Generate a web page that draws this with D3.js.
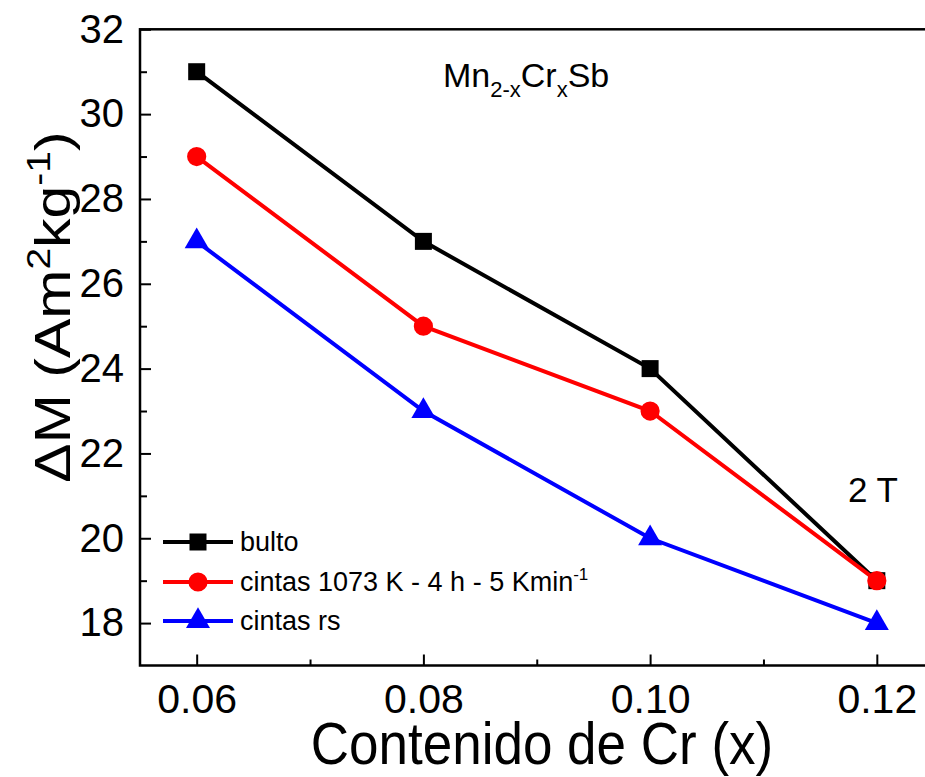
<!DOCTYPE html>
<html>
<head>
<meta charset="utf-8">
<script src="https://cdn.jsdelivr.net/npm/d3@7"></script>
<style>
  html, body { margin: 0; padding: 0; background: #fff; }
  svg { display: block; font-family: Arial, "Liberation Sans", Helvetica, sans-serif; }
</style>
</head>
<body>
<svg id="chart" width="925" height="777"></svg>
<script>
// Cr content of the Mn(2-x)Cr(x)Sb samples
const crContent = [0.06, 0.08, 0.10, 0.12];
// Magnetization change (Am^2 kg^-1) at 2 T
const bulto = [31, 27, 24, 19];
const cintas1073 = [29, 25, 23, 19];
const cintasRs = [27, 23, 20, 18];

const xMajorTicks = [0.06, 0.08, 0.10, 0.12];
const xMinorTicks = [0.07, 0.09, 0.11];
const yMajorTicks = [18, 20, 22, 24, 26, 28, 30, 32];
const yMinorTicks = [19, 21, 23, 25, 27, 29, 31];

const seriesNames = ["bulto", "cintas 1073 K - 4 h - 5 Kmin", "cintas rs"];

(function draw() {
  const svg = d3.select("#chart");
  const plotLeft = 140, plotRight = 933.5, plotTop = 29.3, plotBottom = 665.5;

  const x = d3.scaleLinear().domain([0.055, 0.125]).range([plotLeft, plotRight]);
  const y = d3.scaleLinear().domain([17, 32]).range([plotBottom, plotTop]);

  // axes with inward ticks
  const gx = svg.append("g").attr("transform", `translate(0,${plotBottom})`)
    .call(d3.axisBottom(x).tickValues(xMajorTicks).tickSize(-11).tickSizeOuter(0)
      .tickPadding(18).tickFormat(d3.format(".2f")));
  svg.append("g").attr("transform", `translate(0,${plotBottom})`)
    .call(d3.axisBottom(x).tickValues(xMinorTicks).tickSize(-6).tickSizeOuter(0).tickFormat(""));
  const gy = svg.append("g").attr("transform", `translate(${plotLeft},0)`)
    .call(d3.axisLeft(y).tickValues(yMajorTicks).tickSize(-11).tickSizeOuter(0).tickPadding(16));
  svg.append("g").attr("transform", `translate(${plotLeft},0)`)
    .call(d3.axisLeft(y).tickValues(yMinorTicks).tickSize(-7).tickSizeOuter(0).tickFormat(""));

  svg.selectAll(".domain").remove();
  svg.selectAll(".tick line").attr("stroke", "#000").attr("stroke-width", 2);
  gx.selectAll("text").attr("font-size", 41).attr("fill", "#000");
  gy.selectAll("text").attr("font-size", 40).attr("fill", "#000");

  // frame
  svg.append("rect").attr("x", plotLeft).attr("y", plotTop)
    .attr("width", plotRight - plotLeft).attr("height", plotBottom - plotTop)
    .attr("fill", "none").attr("stroke", "#000").attr("stroke-width", 2.5);

  const series = [
    { name: seriesNames[0], values: bulto, color: "#000000", shape: d3.symbolSquare, size: 289 },
    { name: seriesNames[1], values: cintas1073, color: "#ff0000", shape: d3.symbolCircle, size: 290 },
    { name: seriesNames[2], values: cintasRs, color: "#0000ff", shape: d3.symbolTriangle, size: 250 }
  ];

  const line = d3.line().x((d, i) => x(crContent[i])).y(d => y(d));

  series.forEach(s => {
    svg.append("path").datum(s.values)
      .attr("d", line).attr("fill", "none")
      .attr("stroke", s.color).attr("stroke-width", 4).attr("stroke-linejoin", "miter");
    svg.selectAll(null).data(s.values).enter().append("path")
      .attr("d", d3.symbol().type(s.shape).size(s.size))
      .attr("transform", (d, i) => `translate(${x(crContent[i])},${y(d)})`)
      .attr("fill", s.color);
  });

  // legend
  const legendRows = [542, 582, 621];
  series.forEach((s, i) => {
    const ly = legendRows[i];
    svg.append("line").attr("x1", 163).attr("x2", 233).attr("y1", ly).attr("y2", ly)
      .attr("stroke", s.color).attr("stroke-width", 4);
    svg.append("path").attr("d", d3.symbol().type(s.shape).size(s.size))
      .attr("transform", `translate(198,${ly})`).attr("fill", s.color);
    const t = svg.append("text").attr("x", 240).attr("y", ly).attr("dy", "0.35em")
      .attr("font-size", 27).attr("fill", "#000").text(s.name);
    if (i === 1) {
      t.append("tspan").attr("font-size", 17).attr("dy", -11).text("-1");
    }
  });

  // compound label
  const comp = svg.append("text").attr("x", 443).attr("y", 87).attr("font-size", 34).attr("fill", "#000");
  comp.append("tspan").text("Mn");
  comp.append("tspan").attr("font-size", 22).attr("dy", 10).text("2-x");
  comp.append("tspan").attr("dy", -10).text("Cr");
  comp.append("tspan").attr("font-size", 22).attr("dy", 10).text("x");
  comp.append("tspan").attr("dy", -10).text("Sb");

  // field label
  svg.append("text").attr("x", 848).attr("y", 502).attr("font-size", 35).attr("fill", "#000").text("2 T");

  // axis titles (glyphs drawn slightly elongated)
  svg.append("text").attr("transform", "translate(542,764) scale(1,1.1)")
    .attr("text-anchor", "middle")
    .attr("font-size", 53).attr("fill", "#000").text("Contenido de Cr (x)");

  const yt = svg.append("text").attr("transform", "translate(70,307) rotate(-90) scale(1.18,1)")
    .attr("text-anchor", "middle").attr("font-size", 50).attr("fill", "#000");
  yt.append("tspan").text("ΔM (Am");
  yt.append("tspan").attr("font-size", 33).attr("dy", -20).text("2");
  yt.append("tspan").attr("dy", 20).text("kg");
  yt.append("tspan").attr("font-size", 33).attr("dy", -20).text("-1");
  yt.append("tspan").attr("dy", 20).text(")");
})();
</script>
</body>
</html>
